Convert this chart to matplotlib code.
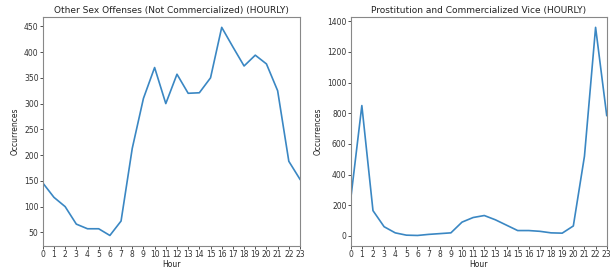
import numpy as np
import matplotlib
matplotlib.use("Agg")
import matplotlib.pyplot as plt

hours = list(range(24))
other_sex = [146, 118, 100, 66, 57, 57, 44, 72, 213, 310, 370, 300,
             357, 320, 321, 350, 448, 410, 373, 394, 377, 325, 188, 153]
prostitution = [240, 850, 165, 60, 20, 5, 3, 10, 15, 20, 90, 120,
                133, 105, 70, 35, 35, 30, 20, 18, 65, 520, 1360, 785]

titles = ["Other Sex Offenses (Not Commercialized) (HOURLY)",
          "Prostitution and Commercialized Vice (HOURLY)"]

fig = plt.figure(figsize=(6.11, 2.69), dpi=100)
ax1 = fig.add_axes([0.070, 0.086, 0.421, 0.851])
ax2 = fig.add_axes([0.574, 0.086, 0.419, 0.851])

for ax, data, title in zip([ax1, ax2], [other_sex, prostitution], titles):
    ax.plot(hours, data, color="#3a87c3", linewidth=1.2)
    ax.set_xlim(0, 23)
    ax.set_xticks(hours)
    ax.set_title(title, fontsize=6.5, pad=3, color="#222222")
    ax.set_xlabel("Hour", fontsize=5.5, labelpad=0.5, color="#222222")
    ax.set_ylabel("Occurrences", fontsize=5.5, labelpad=3, color="#222222")
    ax.tick_params(labelsize=5.5, length=2, width=0.6, pad=1, colors="#333333")
    for s in ax.spines.values():
        s.set_color("#888888")
        s.set_linewidth(0.8)

plt.savefig("out.png", dpi=100)
